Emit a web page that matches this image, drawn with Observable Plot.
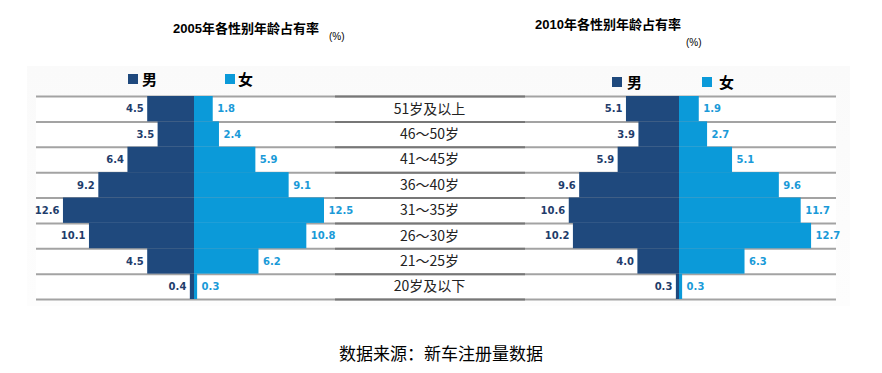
<!DOCTYPE html>
<html>
<head>
<meta charset="utf-8">
<script src="https://cdn.jsdelivr.net/npm/d3@7"></script>
<script src="https://cdn.jsdelivr.net/npm/@observablehq/plot@0.6"></script>
<style>
  body { margin: 0; background: #fff; font-family: "Liberation Sans", "Noto Sans CJK SC", sans-serif; }
  #wrap { position: relative; width: 882px; height: 373px; overflow: hidden; }
  #panel { position: absolute; left: 27px; top: 66px; width: 823px; height: 240px;
           background: linear-gradient(#fafafa, #fdfdfd); }
  #chart { position: absolute; left: 0; top: 0; }
  .t { position: absolute; white-space: nowrap; line-height: 1; color: #000; }
  .title { font-size: 13px; font-weight: bold; font-family: "Liberation Sans", "Noto Sans CJK SC", sans-serif; }
  .pct { font-size: 10px; font-family: "Liberation Sans", sans-serif; }
  .leg { font-size: 15px; font-weight: bold; font-family: "Noto Sans CJK SC", sans-serif; }
  .sw { position: absolute; width: 10px; height: 10px; }
  .cap { font-size: 17px; font-family: "Noto Sans CJK SC", sans-serif; width: 882px; text-align: center; left: 0; }
</style>
</head>
<body>
<div id="wrap">
  <div id="panel"></div>
  <div id="chart"></div>
</div>
<script>
// ---- data ----
const ages = ["51岁及以上", "46～50岁", "41～45岁", "36～40岁", "31～35岁", "26～30岁", "21～25岁", "20岁及以下"];
const male2005   = [4.5, 3.5, 6.4, 9.2, 12.6, 10.1, 4.5, 0.4];
const female2005 = [1.8, 2.4, 5.9, 9.1, 12.5, 10.8, 6.2, 0.3];
const male2010   = [5.1, 3.9, 5.9, 9.6, 10.6, 10.2, 4.0, 0.3];
const female2010 = [1.9, 2.7, 5.1, 9.6, 11.7, 12.7, 6.3, 0.3];
const titles = ["2005年各性别年龄占有率", "2010年各性别年龄占有率"];
const legendLabels = ["男", "女"];
const caption = "数据来源：新车注册量数据";

// ---- layout (scale units: 1 unit = one percentage point) ----
const W = 882, H = 373;
const pxPerUnit = 10.4;
const leftCenterPx = 194, rightCenterPx = 679;
const xMin = -leftCenterPx / pxPerUnit, xMax = (W - leftCenterPx) / pxPerUnit;
const center2005 = 0;
const center2010 = (rightCenterPx - leftCenterPx) / pxPerUnit;
const labelCenter = (429 - leftCenterPx) / pxPerUnit;
const ruleX1 = (36 - leftCenterPx) / pxPerUnit, ruleX2 = (836 - leftCenterPx) / pxPerUnit;
const colX1 = (335 - leftCenterPx) / pxPerUnit, colX2 = (525 - leftCenterPx) / pxPerUnit;

const maleColor = "#1f497d", femaleColor = "#0b9ad9";
const maleText = "#1f3d6b", femaleText = "#1a9ad8";

const rows = ages.map((a, i) => ({age: a, i,
  m05: male2005[i], f05: female2005[i], m10: male2010[i], f10: female2010[i]}));
const bounds = d3.range(ages.length + 1);

const bars = [];
for (const r of rows) {
  bars.push({i: r.i, x1: center2005 - r.m05, x2: center2005, v: r.m05, sex: "m"});
  bars.push({i: r.i, x1: center2005, x2: center2005 + r.f05, v: r.f05, sex: "f"});
  bars.push({i: r.i, x1: center2010 - r.m10, x2: center2010, v: r.m10, sex: "m"});
  bars.push({i: r.i, x1: center2010, x2: center2010 + r.f10, v: r.f10, sex: "f"});
}
const males = bars.filter(d => d.sex === "m");
const females = bars.filter(d => d.sex === "f");

const chart = Plot.plot({
  width: W, height: H,
  marginTop: 96, marginBottom: 74, marginLeft: 0, marginRight: 0,
  style: {background: "transparent", overflow: "visible"},
  x: {domain: [xMin, xMax], axis: null},
  y: {domain: [0, ages.length], reverse: true, axis: null},
  marks: [
    Plot.rectX(rows, {x1: ruleX1, x2: ruleX2, y1: "i", y2: d => d.i + 1, fill: "#ffffff"}),
    Plot.ruleY(bounds, {y: d => d, x1: ruleX1, x2: ruleX2, stroke: "#a3a3a3", strokeWidth: 2}),
    Plot.ruleY(bounds, {y: d => d, x1: colX1, x2: colX2, stroke: "#777777", strokeWidth: 2}),
    Plot.rectX(males, {x1: "x1", x2: "x2", y1: "i", y2: d => d.i + 1, fill: maleColor}),
    Plot.rectX(females, {x1: "x1", x2: "x2", y1: "i", y2: d => d.i + 1, fill: femaleColor}),
    Plot.text(males, {x: "x1", y: d => d.i + 0.5, text: d => d.v.toFixed(1), textAnchor: "end", dx: -4,
      fill: maleText, fontSize: 10, fontWeight: "bold", fontFamily: "DejaVu Sans"}),
    Plot.text(females, {x: "x2", y: d => d.i + 0.5, text: d => d.v.toFixed(1), textAnchor: "start", dx: 4,
      fill: femaleText, fontSize: 10, fontWeight: "bold", fontFamily: "DejaVu Sans"}),
    Plot.text(rows, {x: labelCenter, y: d => d.i + 0.5, text: "age", fill: "#222", fontSize: 14,
      fontFamily: "Noto Sans CJK SC"})
  ]
});
document.getElementById("chart").appendChild(chart);

// ---- titles, legends, caption ----
const wrap = document.getElementById("wrap");
function addText(cls, txt, left, top) {
  const d = document.createElement("div");
  d.className = "t " + cls;
  d.textContent = txt;
  if (left !== null) d.style.left = left + "px";
  d.style.top = top + "px";
  wrap.appendChild(d);
  return d;
}
function addSwatch(color, left, top) {
  const d = document.createElement("div");
  d.className = "sw";
  d.style.background = color;
  d.style.left = left + "px";
  d.style.top = top + "px";
  wrap.appendChild(d);
}
addText("title", titles[0], 173, 22);
addText("pct", "(%)", 329, 32);
addText("title", titles[1], 535, 18);
addText("pct", "(%)", 686, 38);

addSwatch(maleColor, 128, 74);
addText("leg", legendLabels[0], 142, 71);
addSwatch(femaleColor, 225, 74);
addText("leg", legendLabels[1], 238, 71);
addSwatch(maleColor, 612, 77);
addText("leg", legendLabels[0], 627, 74);
addSwatch(femaleColor, 702, 77);
addText("leg", legendLabels[1], 719, 74);

addText("cap", caption, null, 344);
</script>
</body>
</html>
